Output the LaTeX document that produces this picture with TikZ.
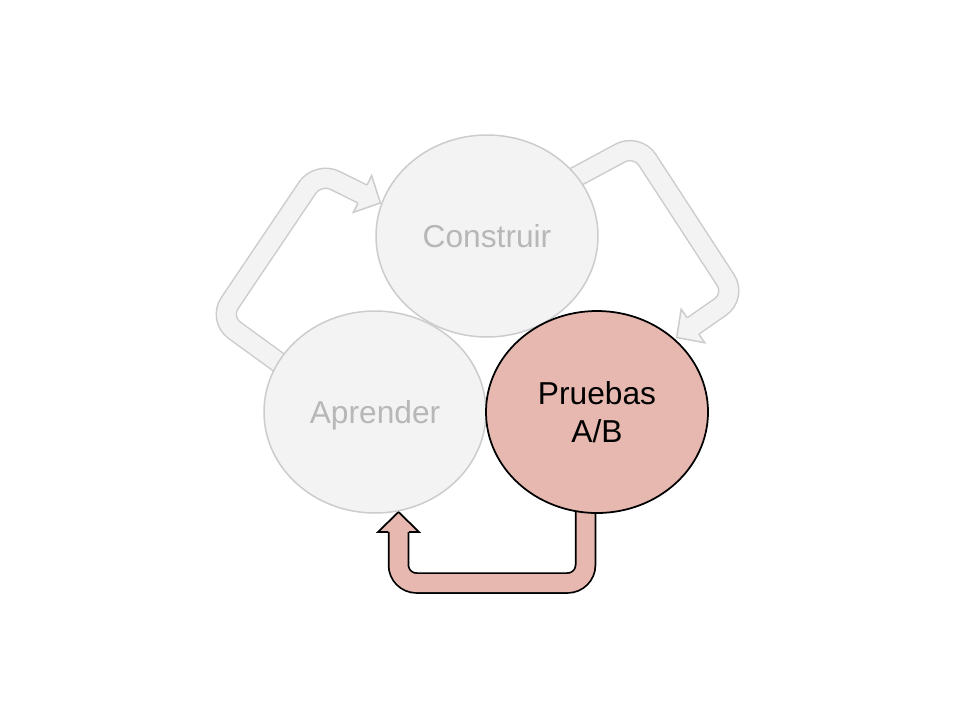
\documentclass[tikz,border=0pt]{standalone}
\usepackage{fontspec}
\setmainfont{Liberation Sans}
\usetikzlibrary{shapes.geometric,calc}
\definecolor{gfill}{HTML}{F3F3F3}
\definecolor{gline}{HTML}{CCCCCC}
\definecolor{gtext}{HTML}{B7B7B7}
\definecolor{pfill}{HTML}{E6B8AF}
\tikzset{
  gout/.style={draw=gline, line width=21.5pt, rounded corners=19pt},
  gin/.style={draw=gfill, line width=18.5pt, rounded corners=19pt},
  pout/.style={draw=black, line width=21.5pt, rounded corners=18pt},
  pin/.style={draw=pfill, line width=18pt, rounded corners=18pt},
  gedge/.style={draw=gline, line width=1.5pt, line join=miter},
  pedge/.style={draw=black, line width=1.75pt, line join=miter},
  circ/.style={ellipse, minimum width=222pt, minimum height=202pt, inner sep=0pt,
    font=\fontsize{31.7}{37.5}\selectfont, align=center},
  gcirc/.style={circ, fill=gfill, text=gtext, text depth=0pt},
  gring/.style={draw=gline, line width=1.5pt},
}
\begin{document}
\begin{tikzpicture}[x=1pt,y=-1pt]
\useasboundingbox (0,0) rectangle (960,720);
% ---- left arrow (Aprender -> Construir)
\coordinate (la0) at (285,367);
\coordinate (la1) at (219,319);
\coordinate (la2) at (318,172);
\coordinate (lb) at (362.5,194);
\coordinate (lt) at (380.4,202.9);
\coordinate (le) at ($(lb)!4pt!(lt)$);
\draw[gout] (la0) -- (la1) -- (la2) -- (le);
\draw[gin] (la0) -- (la1) -- (la2) -- (le);
\fill[gfill] ($(lb)!20.5pt!90:(lt)$) -- (lt) -- ($(lb)!20.5pt!-90:(lt)$) -- cycle;
\draw[gedge] ($(lb)!10.25pt!90:(lt)$) -- ($(lb)!20.5pt!90:(lt)$) -- (lt) -- ($(lb)!20.5pt!-90:(lt)$) -- ($(lb)!10.25pt!-90:(lt)$);
% ---- right arrow (Construir -> Pruebas)
\coordinate (ra0) at (572,179);
\coordinate (ra1) at (637,144);
\coordinate (ra2) at (736,296);
\coordinate (rb) at (693,326);
\coordinate (rt) at (676.7,337.5);
\coordinate (re) at ($(rb)!4pt!(rt)$);
\draw[gout] (ra0) -- (ra1) -- (ra2) -- (re);
\draw[gin] (ra0) -- (ra1) -- (ra2) -- (re);
\fill[gfill] ($(rb)!20.5pt!90:(rt)$) -- (rt) -- ($(rb)!20.5pt!-90:(rt)$) -- cycle;
\draw[gedge] ($(rb)!10.25pt!90:(rt)$) -- ($(rb)!20.5pt!90:(rt)$) -- (rt) -- ($(rb)!20.5pt!-90:(rt)$) -- ($(rb)!10.25pt!-90:(rt)$);
% ---- bottom arrow (Pruebas -> Aprender)
\coordinate (ba0) at (585.5,505);
\coordinate (ba1) at (585.5,583);
\coordinate (ba2) at (398.5,583);
\coordinate (bb) at (398.5,532);
\coordinate (bt) at (398.5,512);
\coordinate (be) at ($(bb)!4pt!(bt)$);
\draw[pout] (ba0) -- (ba1) -- (ba2) -- (be);
\draw[pin] (ba0) -- (ba1) -- (ba2) -- (be);
\fill[pfill] ($(bb)!20.5pt!90:(bt)$) -- (bt) -- ($(bb)!20.5pt!-90:(bt)$) -- cycle;
\draw[pedge] ($(bb)!10.25pt!90:(bt)$) -- ($(bb)!20.5pt!90:(bt)$) -- (bt) -- ($(bb)!20.5pt!-90:(bt)$) -- ($(bb)!10.25pt!-90:(bt)$);
% ---- circles
\node[gcirc] (construir) at (487,236) {Construir};
\node[gcirc] (aprender) at (375,412) {Aprender};
\draw[gring] (construir.center) ellipse [x radius=111, y radius=101];
\draw[gring] (aprender.center) ellipse [x radius=111, y radius=101];
\node[circ, fill=pfill, draw=black, line width=1.75pt, text=black] (pruebas) at (597,412) {Pruebas\\A/B};
\end{tikzpicture}
\end{document}
